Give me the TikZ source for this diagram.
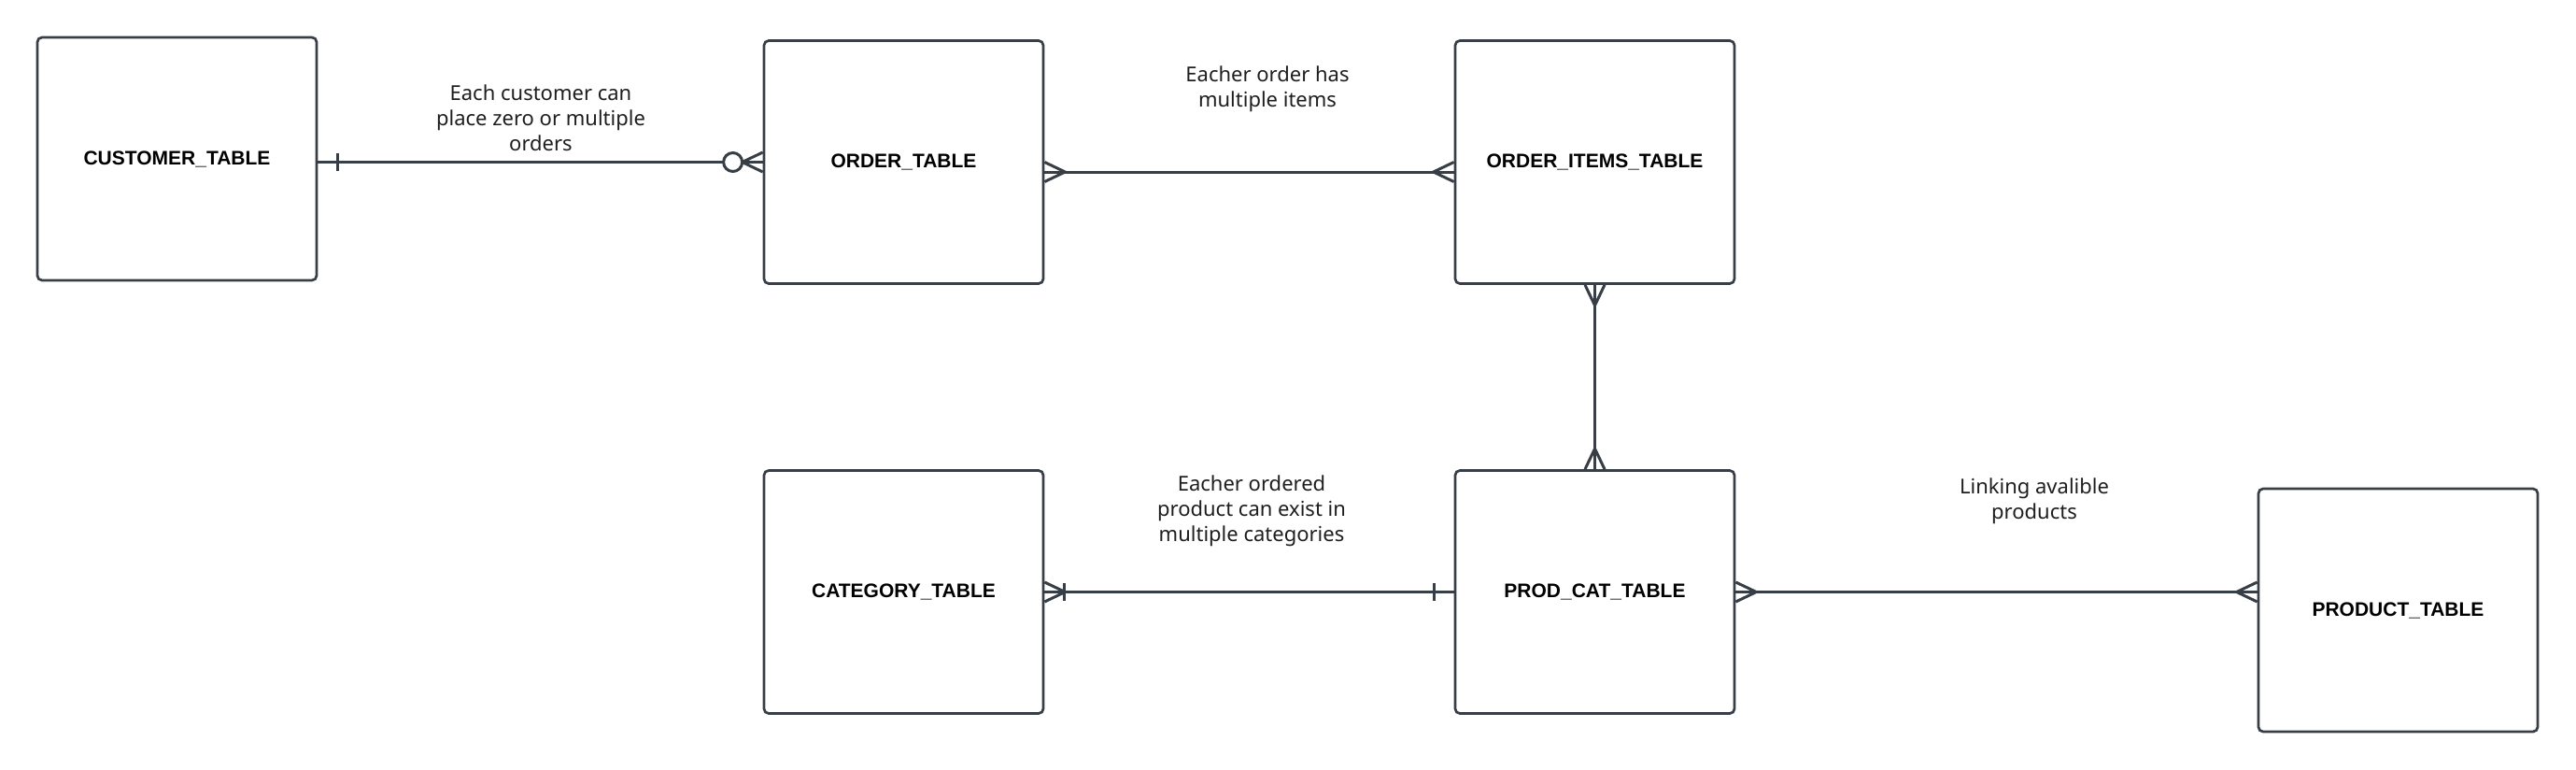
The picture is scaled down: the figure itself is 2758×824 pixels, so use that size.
\documentclass[tikz,border=0pt]{standalone}
\usepackage{fontspec}
\setmainfont{Noto Sans}
\newfontfamily\tablefont{Liberation Sans}
\usetikzlibrary{positioning}

\definecolor{erline}{HTML}{383E46}
\definecolor{ertext}{HTML}{1E1E1E}

\tikzset{
  entity/.style={draw=erline, line width=2.7pt, rounded corners=5pt,
    minimum width=299pt, minimum height=260pt, inner sep=0pt,
    font=\tablefont\bfseries\fontsize{21}{25}\selectfont},
  rel/.style={draw=erline, line width=3pt},
  note/.style={align=center, text=ertext, font=\fontsize{22}{27}\selectfont},
  crowfoot/.pic={\draw[rel] (0,-10.5) -- (22,0) -- (0,10.5);},
  onebar/.pic={\draw[rel] (21,-9.5) -- (21,9.5);},
  zeroring/.pic={\draw[rel,fill=white] (32,0) circle (10pt);},
}

\begin{document}
\begin{tikzpicture}[x=1pt,y=-1pt]
  \useasboundingbox (0,0) rectangle (2758,824);
  % tables
  \node[entity] (customer) at (189.5,170) {CUSTOMER\_TABLE};
  \node[entity] (order) at (967.5,173.5) {ORDER\_TABLE};
  \node[entity] (items) at (1707.5,173.5) {ORDER\_ITEMS\_TABLE};
  \node[entity] (category) at (967.5,633.5) {CATEGORY\_TABLE};
  \node[entity] (prodcat) at (1707.5,633.5) {PROD\_CAT\_TABLE};
  \node[entity] (product) at (2567.5,653) {PRODUCT\_TABLE};

  % relations
  \coordinate (co) at (customer.east |- order.west);
  \draw[rel] (co) -- (order.west);
  \pic at (co) {onebar};
  \pic[rotate=180] at (order.west) {crowfoot};
  \pic[rotate=180] at (order.west) {zeroring};

  \coordinate (oi) at ([yshift=-10.5pt]order.east);
  \draw[rel] (oi) -- (oi -| items.west);
  \pic at (oi) {crowfoot};
  \pic[rotate=180] at (oi -| items.west) {crowfoot};

  \draw[rel] (items.south) -- (prodcat.north);
  \pic[rotate=-90] at (items.south) {crowfoot};
  \pic[rotate=90] at (prodcat.north) {crowfoot};

  \draw[rel] (prodcat.west) -- (category.east);
  \pic at (category.east) {crowfoot};
  \pic at (category.east) {onebar};
  \pic[rotate=180] at (prodcat.west) {onebar};

  \coordinate (pp) at (prodcat.east -| product.west);
  \draw[rel] (prodcat.east) -- (pp);
  \pic at (prodcat.east) {crowfoot};
  \pic[rotate=180] at (pp) {crowfoot};

  % labels
  \node[note] (lblorders) at (579,126) {Each customer can\\place zero or multiple\\orders};
  \node[note] (lblitems) at (1357,95) {Eacher order has\\multiple items};
  \node[note] (lblcats) at (1340,547) {Eacher ordered\\product can exist in\\multiple categories};
  \node[note] (lblprods) at (2178,536) {Linking avalible\\products};
\end{tikzpicture}
\end{document}
